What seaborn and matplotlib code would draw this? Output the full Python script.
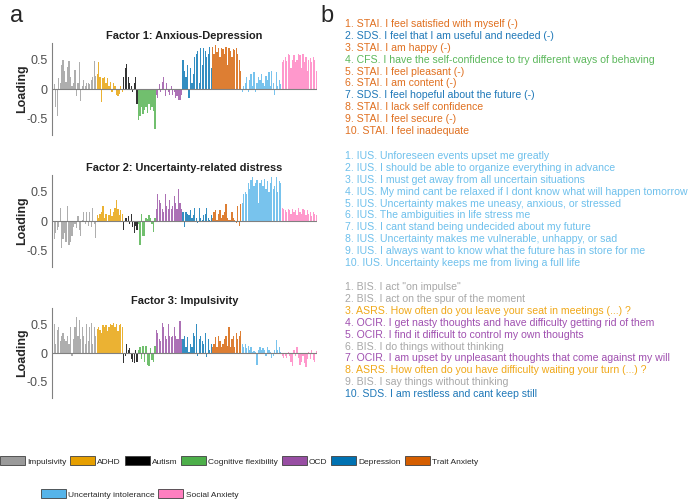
import numpy as np
import pandas as pd
import seaborn as sns
import matplotlib.pyplot as plt
from matplotlib.patches import Patch

sns.set_style("white")
plt.rcParams['font.family'] = ['Liberation Sans', 'DejaVu Sans']

groups = ["Impulsivity", "ADHD", "Autism", "Cognitive flexibility", "OCD",
          "Depression", "Trait Anxiety", "Uncertainty intolerance", "Social Anxiety"]
n_items = [30, 18, 10, 12, 18, 20, 20, 27, 24]
colors = ["#9a9a9a", "#e69f00", "#000000", "#4daf4a", "#984ea3",
          "#0072b2", "#d55e00", "#56b4e9", "#ff7fc0"]

# factor 1: anxious-depression
f1 = {
    "Impulsivity": [0.38, 0.08, -0.3, -0.45, 0.18, 0.1, 0.4, 0.5, 0.3, 0.12, 0.38, 0.48, 0.2, 0.05, 0.1,
                    0.33, -0.12, 0.1, 0.45, -0.2, 0.05, 0.15, 0.05, 0.1, 0.1, 0.08, 0.15, 0.2, 0.47, 0.22],
    "ADHD": [0.25, 0.45, 0.2, -0.22, 0.18, 0.2, 0.1, 0.18, 0.05, 0.12, -0.05, 0.1, 0.05, -0.1, -0.12, -0.08, 0.05, -0.05],
    "Autism": [0.2, 0.35, 0.42, 0.2, 0.1, 0.05, -0.05, 0.1, 0.2, -0.25],
    "Cognitive flexibility": [-0.52, -0.45, -0.3, -0.42, -0.35, -0.3, -0.4, -0.25, -0.35, -0.3, -0.38, -0.68],
    "OCD": [-0.1, -0.15, 0.08, -0.05, 0.12, 0.2, -0.12, 0.1, -0.05, -0.1, 0.05, -0.1, -0.05, -0.15, -0.12, -0.18, -0.18, -0.1],
    "Depression": [0.5, 0.3, 0.2, 0.4, -0.15, 0.35, 0.1, 0.25, 0.55, 0.6, 0.65, 0.1, 0.7, 0.4, 0.7, 0.65, 0.55, 0.6, 0.72, 0.35],
    "Trait Anxiety": [0.72, 0.6, 0.74, 0.62, 0.7, 0.55, 0.7, 0.68, 0.6, 0.72, 0.4, 0.7, 0.65, 0.55, 0.68, 0.66, 0.7, 0.6, 0.5, 0.3],
    "Uncertainty intolerance": [-0.05, 0.05, 0.1, 0.2, -0.05, 0.15, 0.25, 0.05, 0.28, -0.05, 0.1, 0.2, 0.15, 0.25,
                                0.1, 0.05, 0.22, 0.15, 0.28, 0.05, 0.3, 0.1, -0.1, 0.28, 0.05, 0.15, 0.08],
    "Social Anxiety": [0.45, 0.5, 0.55, 0.48, 0.6, 0.58, 0.35, 0.5, 0.58, 0.45, 0.5, 0.6, 0.58, 0.35, 0.6, 0.45,
                       0.55, 0.3, 0.5, 0.52, 0.45, 0.55, 0.5, 0.3],
}
# factor 2: uncertainty-related distress
f2 = {
    "Impulsivity": [-0.5, -0.3, -0.2, -0.15, -0.1, 0.22, -0.45, -0.3, -0.2, -0.35, 0.25, -0.4, -0.35, -0.25, -0.1,
                    -0.05, -0.12, 0.08, -0.15, -0.25, 0.02, 0.15, -0.05, 0.15, -0.08, 0.15, -0.1, 0.22, -0.05, -0.28],
    "ADHD": [0.1, 0.05, 0.12, 0.15, 0.25, 0.05, 0.12, -0.02, 0.1, 0.2, 0.08, 0.15, 0.22, 0.35, 0.2, 0.1, 0.18, 0.12],
    "Autism": [-0.15, 0.05, 0.05, 0.08, -0.05, 0.12, -0.1, -0.2, -0.08, -0.15],
    "Cognitive flexibility": [-0.05, -0.4, 0.12, -0.25, -0.25, 0.05, 0.03, 0.1, 0.05, -0.05, -0.18, 0.05],
    "OCD": [0.2, 0.45, 0.35, 0.3, 0.2, 0.15, 0.45, 0.25, 0.2, 0.35, 0.2, 0.25, 0.42, 0.3, 0.2, 0.55, 0.3, 0.2],
    "Depression": [0.15, -0.1, 0.15, 0.12, 0.1, 0.18, 0.05, 0.1, 0.22, 0.05, -0.03, 0.22, 0.05, 0.02, 0.1, 0.12, 0.22, 0.05, 0.02, 0.1],
    "Trait Anxiety": [0.05, 0.15, 0.18, 0.02, 0.12, 0.18, 0.05, 0.1, 0.15, 0.28, 0.05, 0.02, 0.02, 0.15, 0.05, 0.02, -0.03, 0.25, -0.08, 0.28],
    "Uncertainty intolerance": [0.3, 0.45, 0.5, 0.45, 0.65, 0.55, 0.7, 0.75, 0.6, 0.65, 0.7, 0.3, 0.65, 0.7,
                                0.6, 0.72, 0.55, 0.68, 0.5, 0.65, 0.75, 0.55, 0.6, 0.75, 0.5, 0.68, 0.65],
    "Social Anxiety": [0.22, 0.2, 0.18, 0.15, 0.2, 0.18, 0.12, 0.2, 0.15, 0.18, 0.1, 0.22, 0.15, 0.12, 0.2, 0.18,
                       0.1, 0.18, 0.12, 0.15, 0.08, 0.15, 0.12, 0.1],
}
# factor 3: impulsivity
f3 = {
    "Impulsivity": [0.28, 0.5, 0.15, 0.4, 0.45, 0.2, 0.3, 0.35, 0.25, 0.2, 0.3, 0.15, 0.45, -0.05, 0.25,
                    0.45, 0.62, 0.3, 0.58, 0.25, 0.45, 0.3, 0.15, 0.5, 0.2, 0.45, 0.52, 0.15, 0.45, 0.3],
    "ADHD": [0.42, 0.45, 0.4, 0.35, 0.48, 0.45, 0.48, 0.38, 0.45, 0.5, 0.48, 0.52, 0.45, 0.5, 0.38, 0.48, 0.5, 0.45],
    "Autism": [-0.18, -0.05, 0.15, 0.05, 0.08, -0.1, -0.15, -0.18, 0.05, -0.15],
    "Cognitive flexibility": [0.05, 0.1, -0.1, 0.12, -0.15, 0.12, -0.2, -0.22, 0.08, -0.12, -0.15, 0.12],
    "OCD": [0.4, 0.35, 0.25, 0.2, 0.52, 0.45, 0.3, 0.25, 0.5, 0.3, 0.28, 0.3, 0.45, 0.3, 0.25, 0.25, 0.55, 0.25],
    "Depression": [0.25, 0.3, 0.1, 0.28, 0.02, 0.15, 0.1, 0.35, 0.3, 0.5, -0.05, 0.25, 0.3, 0.2, 0.15, 0.35, -0.07, 0.25, 0.05, 0.15],
    "Trait Anxiety": [0.1, 0.15, 0.28, 0.1, 0.3, 0.2, 0.1, 0.15, 0.25, 0.3, 0.12, 0.45, 0.1, 0.25, 0.3, 0.1, 0.35, 0.25, 0.3, 0.38],
    "Uncertainty intolerance": [0.15, 0.1, 0.15, 0.08, 0.12, 0.05, 0.1, 0.02, 0.03, 0.01, -0.2, 0.05, 0.1, 0.05,
                                0.08, 0.06, -0.05, 0.1, 0.05, 0.02, -0.08, -0.05, 0.05, 0.22, 0.05, 0.1, 0.02],
    "Social Anxiety": [-0.05, -0.08, -0.05, -0.08, 0.02, -0.05, -0.15, -0.22, 0.05, -0.05, 0.1, -0.08, -0.2, -0.15,
                       -0.05, -0.18, -0.25, -0.1, 0.02, -0.1, 0.05, -0.12, -0.15, 0.03],
}

titles = ["Factor 1: Anxious-Depression", "Factor 2: Uncertainty-related distress", "Factor 3: Impulsivity"]

# top 10 items for each factor
scale_colors = {"STAI": "#e07020", "SDS": "#1f78b8", "CFS": "#5cb85c", "IUS": "#6ec0ec",
                "BIS": "#a8a8a8", "ASRS": "#f0a818", "OCIR": "#a050b0"}
top1 = [("STAI", "I feel satisfied with myself (-)"), ("SDS", "I feel that I am useful and needed (-)"),
        ("STAI", "I am happy (-)"), ("CFS", "I have the self-confidence to try different ways of behaving"),
        ("STAI", "I feel pleasant (-)"), ("STAI", "I am content (-)"), ("SDS", "I feel hopeful about the future (-)"),
        ("STAI", "I lack self confidence"), ("STAI", "I feel secure (-)"), ("STAI", "I feel inadequate")]
top2 = [("IUS", "Unforeseen events upset me greatly"), ("IUS", "I should be able to organize everything in advance"),
        ("IUS", "I must get away from all uncertain situations"),
        ("IUS", "My mind cant be relaxed if I dont know what will happen tomorrow"),
        ("IUS", "Uncertainty makes me uneasy, anxious, or stressed"), ("IUS", "The ambiguities in life stress me"),
        ("IUS", "I cant stand being undecided about my future"),
        ("IUS", "Uncertainty makes me vulnerable, unhappy, or sad"),
        ("IUS", "I always want to know what the future has in store for me"),
        ("IUS", "Uncertainty keeps me from living a full life")]
top3 = [("BIS", 'I act "on impulse"'), ("BIS", "I act on the spur of the moment"),
        ("ASRS", "How often do you leave your seat in meetings (...) ?"),
        ("OCIR", "I get nasty thoughts and have difficulty getting rid of them"),
        ("OCIR", "I find it difficult to control my own thoughts"), ("BIS", "I do things without thinking"),
        ("OCIR", "I am upset by unpleasant thoughts that come against my will"),
        ("ASRS", "How often do you have difficulty waiting your turn (...) ?"),
        ("BIS", "I say things without thinking"), ("SDS", "I am restless and cant keep still")]

fig = plt.figure(figsize=(6.99, 5.01), dpi=100)
W, H = 699, 501
ax_boxes = [(43, 135), (175, 267), (308, 398)]
pal = dict(zip(groups, colors))

for k, (fac, title) in enumerate(zip([f1, f2, f3], titles)):
    top, bot = ax_boxes[k]
    ax = fig.add_axes([52 / W, 1 - bot / H, 265 / W, (bot - top) / H])
    grp = np.repeat(groups, n_items)
    vals = np.concatenate([fac[g] for g in groups])
    df = pd.DataFrame({"item": np.arange(len(vals)), "loading": vals, "group": grp})
    sns.barplot(data=df, x="item", y="loading", hue="group", palette=pal, dodge=False,
                width=0.85, saturation=1, alpha=0.8, legend=False, ax=ax,
                linewidth=0, edgecolor="none")
    ax.axhline(0, color="#808080", lw=0.8)
    ax.set_xlim(-0.5, len(vals) - 0.5)
    ax.set_ylim(-0.78, 0.78)
    ax.set_xticks([])
    ax.set_xlabel("")
    ax.set_yticks([-0.5, 0, 0.5])
    ax.set_yticklabels(["-0.5", "0", "0.5"])
    ax.tick_params(axis="y", direction="in", length=3, color="#808080", labelsize=9, labelcolor="#505050", pad=3)
    for s in ["top", "right", "bottom"]:
        ax.spines[s].set_visible(False)
    ax.spines["left"].set_color("#808080")
    ax.spines["left"].set_linewidth(0.8)
    ax.set_ylabel("Loading", fontsize=9, fontweight="bold", labelpad=-1)
    ax.set_title(title, fontsize=7.9, fontweight="bold", pad=3, color="#202020")

fig.text(10 / W, 1 - 22 / H, "a", fontsize=17, va="baseline")
fig.text(320 / W, 1 - 22 / H, "b", fontsize=17, va="baseline")

starts = [24, 156, 287]
for lst, y0 in zip([top1, top2, top3], starts):
    for i, (sc, txt) in enumerate(lst):
        fig.text(345 / W, 1 - (y0 + i * 11.9) / H, f"{i + 1}. {sc}. {txt}", fontsize=7.55,
                 color=scale_colors[sc], va="center", ha="left")

handles = [Patch(facecolor=c, edgecolor="#404040", linewidth=0.6, label=g) for g, c in zip(groups, colors)]
leg_kw = dict(frameon=False, handlelength=3.0, handleheight=1.3, handletextpad=0.25,
              columnspacing=0.45, borderpad=0, borderaxespad=0, fontsize=6.0)
fig.legend(handles=handles[:7], ncol=7, loc="center left", bbox_to_anchor=(0, 1 - 461 / H), **leg_kw)
fig.legend(handles=handles[7:], ncol=2, loc="center left", bbox_to_anchor=(41 / W, 1 - 494 / H), **leg_kw)

fig.savefig("out.png", dpi=100)
